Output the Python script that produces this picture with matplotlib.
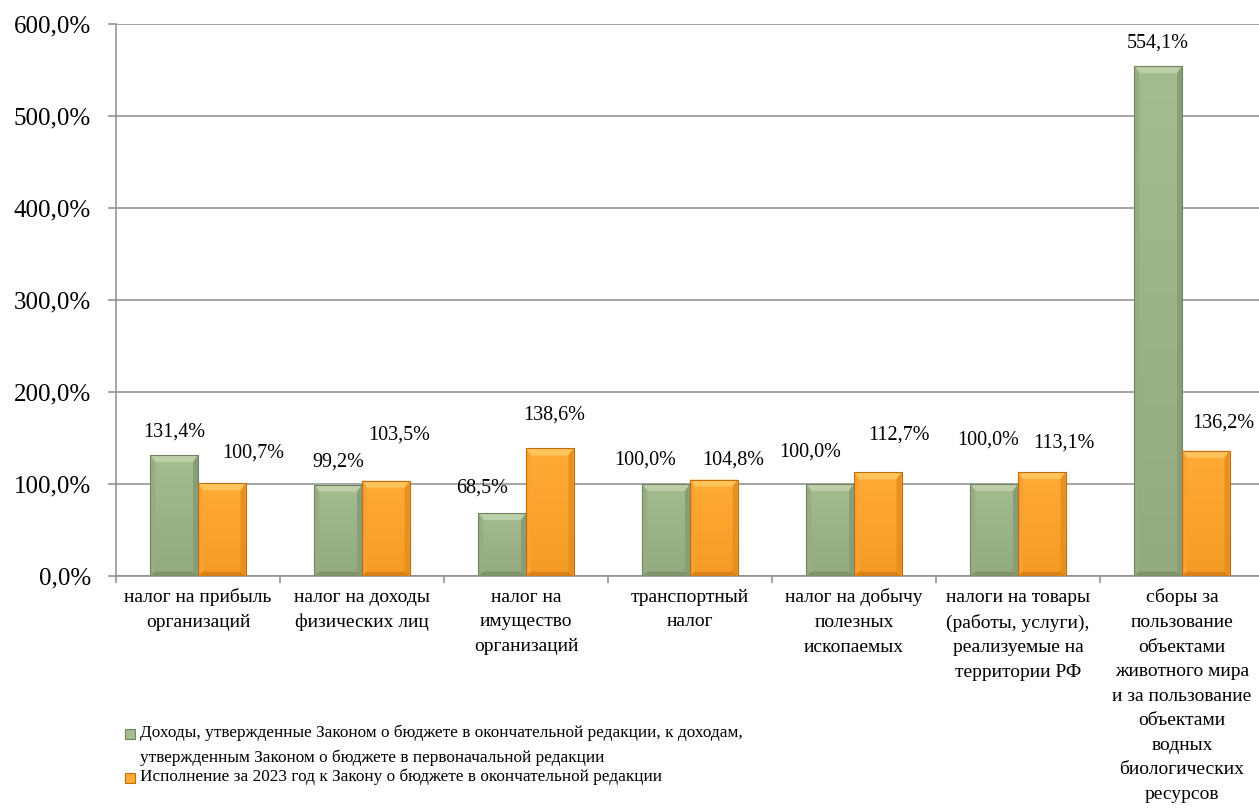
import numpy as np
import matplotlib
matplotlib.use("Agg")
import matplotlib.pyplot as plt
from matplotlib.patches import Rectangle, Polygon
from matplotlib.colors import to_rgb

plt.rcParams['font.family'] = ['Liberation Serif', 'DejaVu Serif']

categories = ["налог на прибыль\nорганизаций",
              "налог на доходы\nфизических лиц",
              "налог на\nимущество\nорганизаций",
              "транспортный\nналог",
              "налог на добычу\nполезных\nископаемых",
              "налоги на товары\n(работы, услуги),\nреализуемые на\nтерритории РФ",
              "сборы за\nпользование\nобъектами\nживотного мира\nи за пользование\nобъектами\nводных\nбиологических\nресурсов"]
final_vs_initial = [131.4, 99.2, 68.5, 100.0, 100.0, 100.0, 554.1]
execution_2023 = [100.7, 103.5, 138.6, 104.8, 112.7, 113.1, 136.2]
series_names = ["Доходы, утвержденные Законом о бюджете в окончательной редакции, к доходам,\n"
                "утвержденным Законом о бюджете в первоначальной редакции",
                "Исполнение за 2023 год к Закону о бюджете в окончательной редакции"]

# label nudges (pixels), like in the original Excel chart
green_nudge = [(0, 23), (0, 23), (-20, 25), (-21, 24), (-20, 32), (-6, 44), (0, 23)]
orange_nudge = [(31, 30), (13, 46), (4, 33), (19, 20), (21, 37), (22, 29), (18, 28)]

# body top, body bottom, top bevel, left, right, bottom, edge
GREEN = ("#a5bb90", "#93a97f", "#bccfa9", "#97ad84", "#889e76", "#7f946d", "#6f845f")
ORANGE = ("#ffab36", "#f59b25", "#ffc45c", "#f7a232", "#e8901f", "#d98219", "#c06c10")

fig = plt.figure(figsize=(12.59, 8.08), dpi=100)
ax = fig.add_axes([116 / 1259, 1 - 576 / 808, 1148 / 1259, 552 / 808])

x = np.arange(len(categories))
w = 0.29
BX = 5 / 164      # bevel size in x data units (~5 px)
BY = 7 / 0.92     # bevel size in y data units (~7 px)


def shade(ax, bars, cols):
    top_c, bot_c = np.array(to_rgb(cols[0])), np.array(to_rgb(cols[1]))
    t = np.linspace(0, 1, 50)[:, None, None]
    img = np.repeat(top_c + (bot_c - top_c) * t, 2, axis=1)
    for b in bars:
        x0, y0 = b.get_xy()
        x1, y1 = x0 + b.get_width(), y0 + b.get_height()
        im = ax.imshow(img, extent=[x0, x1, y0, y1], aspect='auto', zorder=3,
                       interpolation='bilinear')
        im.set_clip_path(b)
        faces = [([(x0, y1), (x1, y1), (x1 - BX, y1 - BY), (x0 + BX, y1 - BY)], cols[2]),
                 ([(x0, y0), (x0, y1), (x0 + BX, y1 - BY), (x0 + BX, y0 + BY * 0.6)], cols[3]),
                 ([(x1, y0), (x1, y1), (x1 - BX, y1 - BY), (x1 - BX, y0 + BY * 0.6)], cols[4]),
                 ([(x0, y0), (x1, y0), (x1 - BX, y0 + BY * 0.6), (x0 + BX, y0 + BY * 0.6)], cols[5])]
        for pts, c in faces:
            ax.add_patch(Polygon(pts, closed=True, facecolor=c, edgecolor='none', zorder=3.5))
        ax.add_patch(Rectangle((x0, y0), x1 - x0, y1 - y0, fill=False,
                               edgecolor=cols[6], linewidth=0.8, zorder=4))


b1 = ax.bar(x - w / 2, final_vs_initial, w, color=GREEN[0], linewidth=0, zorder=2)
b2 = ax.bar(x + w / 2, execution_2023, w, color=ORANGE[0], linewidth=0, zorder=2)
shade(ax, b1, GREEN)
shade(ax, b2, ORANGE)

for xs, vals, nudge in ((x - w / 2, final_vs_initial, green_nudge),
                        (x + w / 2, execution_2023, orange_nudge)):
    for xi, v, (dx, dy) in zip(xs, vals, nudge):
        ax.annotate(f"{v:.1f}%".replace(".", ","), (xi, v),
                    xytext=(dx * 0.72, dy * 0.72), textcoords='offset points',
                    ha='center', va='center', fontsize=14.5, zorder=5)

ax.set_xlim(-0.5, len(categories) - 0.5)
ax.set_ylim(0, 600)
ax.set_yticks(range(0, 601, 100))
ax.set_yticklabels([f"{t:.1f}%".replace(".", ",") for t in range(0, 601, 100)],
                   fontsize=18)
ax.set_xticks(x)
ax.set_xticklabels(categories, fontsize=14, linespacing=1.58)
ax.set_xticks(np.arange(-0.5, len(categories), 1), minor=True)
ax.tick_params(axis='x', which='major', length=0, pad=9)
ax.tick_params(axis='x', which='minor', length=5, color='#8c8c8c', width=1.1)
ax.tick_params(axis='y', length=6, color='#8c8c8c', width=1.1, pad=12)

ax.grid(axis='y', color='#8c8c8c', linewidth=1.1, zorder=0)
ax.set_axisbelow(True)
for s in ('top', 'right'):
    ax.spines[s].set_visible(False)
for s in ('left', 'bottom'):
    ax.spines[s].set_color('#8c8c8c')
    ax.spines[s].set_linewidth(1.1)

# legend, drawn by hand to keep the tight Excel layout
legend_rows = [(733, series_names[0].split("\n")[0], GREEN),
               (758, series_names[0].split("\n")[1], None),
               (777, series_names[1], ORANGE)]
for ypx, txt, cols in legend_rows:
    fig.text(140 / 1259, 1 - ypx / 808, txt, fontsize=12.4, va='center', ha='left')
    if cols is not None:
        fig.add_artist(Rectangle((125 / 1259, 1 - (ypx + 6) / 808), 10 / 1259, 10 / 808,
                                 transform=fig.transFigure, facecolor=cols[0],
                                 edgecolor=cols[6], linewidth=0.8))

fig.savefig("out.png", dpi=100)
